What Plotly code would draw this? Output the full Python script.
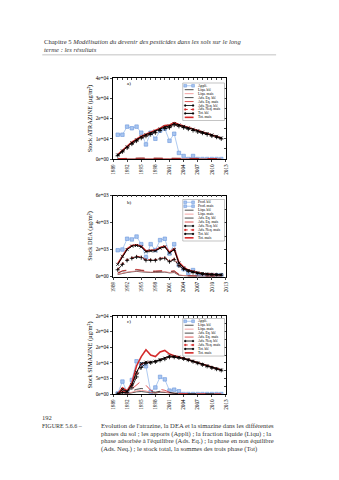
import plotly.graph_objects as go

W, H = 339, 480
def px(x): return x / W
def py(y): return 1 - y / H

years = list(range(1990, 2013))

# ---- Atrazine (a)
atz_appli = [12000, 12000, 16000, 15200, 16000, 13000, 7200, 13000, 10000, 14000, 15000, 9000, 12500,
             3000, 1500, 0, 1500, 0, 0, 0, 0, 0, 0]
atz_liq_ble = [100, 150, 200, 200, 220, 220, 200, 220, 220, 230, 240, 220, 240, 200, 180, 160, 150, 140, 130, 120, 110, 100, 100]
atz_liq_mais = [120, 180, 220, 230, 250, 250, 230, 250, 250, 260, 270, 250, 270, 230, 200, 180, 170, 160, 150, 140, 130, 120, 110]
atz_eq_ble = [200, 300, 350, 380, 400, 420, 400, 420, 430, 450, 470, 430, 460, 380, 340, 310, 290, 270, 250, 230, 220, 200, 190]
atz_eq_mais = [220, 330, 380, 420, 440, 460, 440, 460, 470, 490, 510, 470, 500, 420, 370, 340, 310, 290, 270, 250, 240, 220, 210]
atz_neq_ble = [1700, 3600, 5500, 7400, 8900, 10300, 11300, 12100, 13000, 14000, 15000, 15500, 16800, 16200, 15500, 14800, 14100, 13400, 12800, 12100, 11400, 10800, 10000]
atz_neq_mais = [1900, 3900, 5800, 7700, 9200, 10600, 11600, 12400, 13400, 14400, 15600, 16000, 17300, 16500, 15800, 15100, 14400, 13700, 13000, 12300, 11600, 10900, 10200]
atz_tot_ble = [2000, 4000, 6000, 8000, 9500, 11000, 12000, 12800, 13800, 14800, 15800, 16300, 17500, 16800, 16100, 15400, 14700, 14000, 13300, 12600, 11900, 11200, 10400]
atz_tot_mais = [2200, 4300, 6300, 8300, 9800, 11300, 12300, 13100, 14200, 15200, 16500, 16800, 18000, 17000, 16300, 15600, 14900, 14100, 13400, 12700, 12000, 11200, 10400]

# ---- DEA (b)
dea_prod = [1950, 2000, 2800, 2750, 2960, 2400, 1420, 2400, 1960, 2700, 2800, 1700, 2400,
            850, 550, 250, 480, 120, 110, 100, 100, 100, 100]
dea_liq_ble = [150, 250, 300, 350, 380, 350, 300, 300, 300, 320, 330, 270, 300, 100, 50, 30, 25, 20, 15, 15, 15, 15, 15]
dea_liq_mais = [170, 270, 330, 380, 410, 380, 330, 330, 330, 350, 360, 300, 330, 120, 60, 35, 28, 22, 18, 16, 16, 16, 16]
dea_eq_ble = [250, 400, 450, 500, 500, 450, 400, 380, 380, 400, 420, 350, 400, 150, 80, 50, 40, 30, 25, 20, 20, 20, 20]
dea_eq_mais = [270, 430, 480, 530, 530, 480, 430, 410, 410, 430, 450, 380, 430, 170, 90, 55, 45, 35, 28, 22, 22, 22, 22]
dea_neq_ble = [500, 900, 1200, 1350, 1450, 1400, 1200, 1200, 1200, 1300, 1350, 1100, 1250, 800, 550, 400, 300, 230, 180, 150, 130, 120, 110]
dea_neq_mais = [530, 950, 1250, 1400, 1500, 1450, 1250, 1250, 1250, 1350, 1400, 1150, 1300, 830, 570, 420, 310, 240, 190, 160, 140, 125, 115]
dea_tot_ble = [900, 1500, 2000, 2250, 2300, 2200, 1850, 1900, 1900, 2100, 2200, 1750, 2000, 1000, 650, 450, 350, 280, 220, 180, 160, 140, 130]
dea_tot_mais = [950, 1550, 2050, 2300, 2350, 2250, 1900, 1950, 1950, 2150, 2250, 1800, 2050, 1050, 700, 480, 370, 290, 230, 190, 165, 145, 135]

# ---- Simazine (c)
sim_appli = [200, 4000, 700, 4500, 10500, 9500, 8900, 700, 2100, 5500, 4700, 1100, 1400,
             900, 0, 0, 0, 0, 0, 0, 0, 0, 0]
sim_liq_ble = [0, 400, 100, 500, 700, 800, 700, 400, 300, 600, 500, 200, 100, 60, 40, 30, 20, 20, 20, 20, 20, 20, 20]
sim_liq_mais = [0, 600, 150, 700, 1000, 1200, 1000, 500, 400, 800, 700, 300, 150, 80, 50, 40, 30, 30, 30, 30, 30, 30, 30]
sim_eq_ble = [0, 700, 200, 1000, 1500, 1800, 1500, 800, 600, 900, 800, 400, 200, 120, 80, 60, 50, 40, 40, 40, 40, 40, 40]
sim_eq_mais = [0, 1000, 300, 1500, 3000, 4200, 2800, 1200, 900, 1500, 1200, 600, 300, 200, 100, 80, 60, 50, 40, 30, 30, 30, 30]
sim_neq_ble = [0, 500, 600, 2000, 5500, 8500, 9800, 10000, 10300, 10800, 11200, 11800, 11800, 11600, 11300, 10900, 10400, 9900, 9400, 8900, 8400, 8000, 7600]
sim_neq_mais = [0, 800, 700, 2500, 6500, 9500, 10200, 10200, 10500, 11000, 11600, 12000, 12100, 11800, 11400, 11000, 10500, 10000, 9500, 9000, 8500, 8100, 7700]
sim_tot_ble = [0, 1500, 800, 3000, 7000, 9800, 10200, 10200, 10500, 11000, 11500, 12200, 12000, 11800, 11400, 11000, 10500, 10000, 9500, 9000, 8500, 8100, 7700]
sim_tot_mais = [0, 2000, 1000, 3500, 9000, 12000, 14200, 12500, 12000, 13500, 14000, 12800, 12300, 12000, 11500, 11000, 10500, 10000, 9500, 9000, 8500, 8100, 7700]

x_ticks = [1989, 1992, 1995, 1998, 2001, 2004, 2007, 2010, 2013]
y_ticks_a = [0, 10000, 20000, 30000, 40000]
y_text_a = ["0e+00", "1e+04", "2e+04", "3e+04", "4e+04"]
y_ticks_b = [0, 2000, 4000, 6000]
y_text_b = ["0e+00", "2e+03", "4e+03", "6e+03"]
y_ticks_c = [0, 5000, 10000, 15000, 20000, 25000]
y_text_c = ["0e+00", "5e+03", "1e+04", "2e+04", "2e+04", "2e+04"]

legend_a = ["Appli.", "Liqu. blé", "Liqu. maïs", "Ads. Eq. blé", "Ads. Eq. maïs",
            "Ads. Neq. blé", "Ads. Neq. maïs", "Tot. blé", "Tot. maïs"]
legend_b = ["Prod. blé", "Prod. maïs", "Liqu. blé", "Liqu. maïs", "Ads. Eq. blé", "Ads. Eq. maïs",
            "Ads. Neq. blé", "Ads. Neq. maïs", "Tot. blé", "Tot. maïs"]
legend_c = legend_a

SERIF = "Liberation Serif"
BLUE = "#8db3ea"
BLUE_D = "#6a96dc"
RED = "#d42a2a"
PINK = "#f08a8a"

styles = {
    "appli": dict(color=BLUE, dash="solid", width=0.7, marker=dict(symbol="square", size=3.5, color="#a9c6f0", line=dict(color=BLUE_D, width=0.6))),
    "liq_ble": dict(color="black", dash="solid", width=0.7, marker=None),
    "liq_mais": dict(color=PINK, dash="solid", width=0.8, marker=None),
    "eq_ble": dict(color="black", dash="dash", width=0.7, marker=None),
    "eq_mais": dict(color=RED, dash="dash", width=0.8, marker=None),
    "neq_ble": dict(color="black", dash="dashdot", width=0.8, marker=dict(symbol="cross-thin", size=3, line=dict(color="black", width=0.8))),
    "neq_mais": dict(color=RED, dash="dot", width=1.0, marker=dict(symbol="circle", size=1.8, color=RED)),
    "tot_ble": dict(color="black", dash="solid", width=1.0, marker=dict(symbol="x-thin", size=3, line=dict(color="black", width=0.8))),
    "tot_mais": dict(color=RED, dash="solid", width=1.6, marker=None),
}

fig = go.Figure()

def add(series, key, ax):
    st = styles[key]
    mode = "lines+markers" if st["marker"] else "lines"
    tr = go.Scatter(x=years, y=series, mode=mode, xaxis="x" + ax, yaxis="y" + ax,
                    line=dict(color=st["color"], dash=st["dash"], width=st["width"]),
                    showlegend=False, hoverinfo="skip")
    if st["marker"]:
        tr.marker = st["marker"]
    fig.add_trace(tr)

panels = [
    ("", [atz_appli], atz_liq_ble, atz_liq_mais, atz_eq_ble, atz_eq_mais, atz_neq_ble, atz_neq_mais, atz_tot_ble, atz_tot_mais),
    ("2", [dea_prod], dea_liq_ble, dea_liq_mais, dea_eq_ble, dea_eq_mais, dea_neq_ble, dea_neq_mais, dea_tot_ble, dea_tot_mais),
    ("3", [sim_appli], sim_liq_ble, sim_liq_mais, sim_eq_ble, sim_eq_mais, sim_neq_ble, sim_neq_mais, sim_tot_ble, sim_tot_mais),
]
for ax, ap, lb, lm, eb, em, nb, nm, tb, tm in panels:
    for s in ap:
        add(s, "appli", ax)
    add(lb, "liq_ble", ax); add(lm, "liq_mais", ax)
    add(eb, "eq_ble", ax); add(em, "eq_mais", ax)
    add(tm, "tot_mais", ax)
    add(nm, "neq_mais", ax); add(nb, "neq_ble", ax)
    add(tb, "tot_ble", ax)

xdom = [px(112), px(227)]
ydoms = {"": [py(158), py(76)], "2": [py(277), py(195)], "3": [py(396), py(317)]}
yinfo = {"": (40000, y_ticks_a, y_text_a, "Stock ATRAZINE (µg/m²)"),
         "2": (6000, y_ticks_b, y_text_b, "Stock DEA (µg/m²)"),
         "3": (25000, y_ticks_c, y_text_c, "Stock SIMAZINE (µg/m²)")}
tickfont = dict(family=SERIF, size=5.2, color="black")

layout = dict(width=W, height=H, margin=dict(l=0, r=0, t=0, b=0),
              paper_bgcolor="white", plot_bgcolor="white", showlegend=False)
over_ids = {"": "4", "2": "5", "3": "6"}
for ax in ["", "2", "3"]:
    ymax, tv, tt, title = yinfo[ax]
    layout["xaxis" + ax] = dict(domain=xdom, range=[1989, 2013], anchor="y" + ax,
                                tickvals=x_ticks, ticktext=[str(v) for v in x_ticks],
                                tickangle=-90, ticks="outside", ticklen=2.5, tickwidth=0.6,
                                showline=True, linecolor="black", linewidth=0.6,
                                showgrid=False, zeroline=False, tickfont=tickfont)
    layout["yaxis" + ax] = dict(domain=ydoms[ax], range=[0, ymax], anchor="x" + ax,
                                tickvals=tv, ticktext=tt, ticks="outside", ticklen=2.5, tickwidth=0.6,
                                showline=True, linecolor="black", linewidth=0.6,
                                showgrid=False, zeroline=False, tickfont=tickfont,
                                title=dict(text=title, font=dict(family=SERIF, size=6.3, color="black"), standoff=2))
    o = over_ids[ax]
    layout["xaxis" + o] = dict(overlaying="x" + ax, side="top", anchor="y" + ax, range=[1989, 2013],
                               dtick=1, tick0=1989, ticks="inside", ticklen=1.8, tickwidth=0.5,
                               showticklabels=False, showline=True, linecolor="black", linewidth=0.6,
                               showgrid=False, zeroline=False)
    layout["yaxis" + o] = dict(overlaying="y" + ax, side="right", anchor="x" + ax, range=[0, ymax],
                               dtick=tv[1] / 2, ticks="inside", ticklen=1.8, tickwidth=0.5,
                               showticklabels=False, showline=True, linecolor="black", linewidth=0.6,
                               showgrid=False, zeroline=False)
    fig.add_trace(go.Scatter(x=[1989], y=[0], xaxis="x" + o, yaxis="y" + o, mode="markers",
                             marker=dict(size=0.1, opacity=0), showlegend=False, hoverinfo="skip"))

fig.update_layout(**layout)

shapes = []
annotations = []

def legend_box(top, labels, prod_two):
    left, right = 183, 225.5
    step = 4.0
    bottom = top + step * len(labels) + 2
    shapes.append(dict(type="rect", xref="paper", yref="paper", x0=px(left), x1=px(right),
                       y0=py(bottom), y1=py(top), line=dict(color="#888888", width=0.5),
                       fillcolor="white", layer="above"))
    keys = ["appli", "liq_ble", "liq_mais", "eq_ble", "eq_mais", "neq_ble", "neq_mais", "tot_ble", "tot_mais"]
    if prod_two:
        keys = ["appli", "appli"] + keys[1:]
    for i, (lab, key) in enumerate(zip(labels, keys)):
        yc = top + 2.8 + i * step
        st = styles[key]
        shapes.append(dict(type="line", xref="paper", yref="paper", x0=px(185), x1=px(194),
                           y0=py(yc), y1=py(yc), layer="above",
                           line=dict(color=st["color"], width=st["width"], dash=st["dash"] if st["dash"] != "dashdot" else "dash")))
        if key == "appli":
            for xm in (185.5, 193.5):
                shapes.append(dict(type="rect", xref="paper", yref="paper", x0=px(xm - 1.4), x1=px(xm + 1.4),
                                   y0=py(yc + 1.4), y1=py(yc - 1.4), layer="above",
                                   line=dict(color=BLUE_D, width=0.5), fillcolor="#a9c6f0"))
        elif key in ("neq_ble", "tot_ble", "neq_mais"):
            for xm in (185.5, 193.5):
                shapes.append(dict(type="circle", xref="paper", yref="paper", x0=px(xm - 0.9), x1=px(xm + 0.9),
                                   y0=py(yc + 0.9), y1=py(yc - 0.9), layer="above",
                                   line=dict(color=st["color"], width=0.4), fillcolor=st["color"]))
        annotations.append(dict(x=px(196), y=py(yc), xref="paper", yref="paper", text=lab,
                                showarrow=False, xanchor="left", yanchor="middle",
                                font=dict(family=SERIF, size=3.6, color="black")))

legend_box(81, legend_a, False)
legend_box(199, legend_b, True)
legend_box(319.5, legend_c, False)

for lab, yy in (("a)", 82), ("b)", 202), ("c)", 323)):
    annotations.append(dict(x=px(124), y=py(yy), xref="paper", yref="paper", text=lab, showarrow=False,
                            xanchor="left", yanchor="middle", font=dict(family=SERIF, size=5, color="black")))

# header
annotations.append(dict(x=px(40), y=py(38.5), xref="paper", yref="paper",
                        text="Chapitre 5 <i>Modélisation du devenir des pesticides dans les sols sur le long</i>",
                        showarrow=False, xanchor="left", yanchor="middle",
                        font=dict(family=SERIF, size=6.6, color="#333333")))
annotations.append(dict(x=px(40), y=py(47), xref="paper", yref="paper", text="<i>terme : les résultats</i>",
                        showarrow=False, xanchor="left", yanchor="middle",
                        font=dict(family=SERIF, size=6.6, color="#333333")))
shapes.append(dict(type="line", xref="paper", yref="paper", x0=px(40), x1=px(278), y0=py(52.5), y1=py(52.5),
                   line=dict(color="#999999", width=0.6)))

# caption
cap_font = dict(family=SERIF, size=6.6, color="#333333")
annotations.append(dict(x=px(38), y=py(420), xref="paper", yref="paper", text="192", showarrow=False,
                        xanchor="left", yanchor="middle", font=cap_font))
annotations.append(dict(x=px(38), y=py(428), xref="paper", yref="paper",
                        text="FIGURE 5.6.6 –", showarrow=False, xanchor="left", yanchor="middle",
                        font=dict(family=SERIF, size=6.0, color="#333333")))
for txt, yy in (("Evolution de l'atrazine, la DEA et la simazine dans les différentes", 428),
                ("phases du sol ; les apports (Appli) ; la fraction liquide (Liqu) ; la", 436),
                ("phase adsorbée à l'équilibre (Ads. Eq.) ; la phase en non équilibre", 444),
                ("(Ads. Neq.) ; le stock total, la sommes des trois phase (Tot)", 452)):
    annotations.append(dict(x=px(98), y=py(yy), xref="paper", yref="paper", text=txt, showarrow=False,
                            xanchor="left", yanchor="middle", font=cap_font))

fig.update_layout(shapes=shapes, annotations=annotations)
fig.write_html("out.html")
